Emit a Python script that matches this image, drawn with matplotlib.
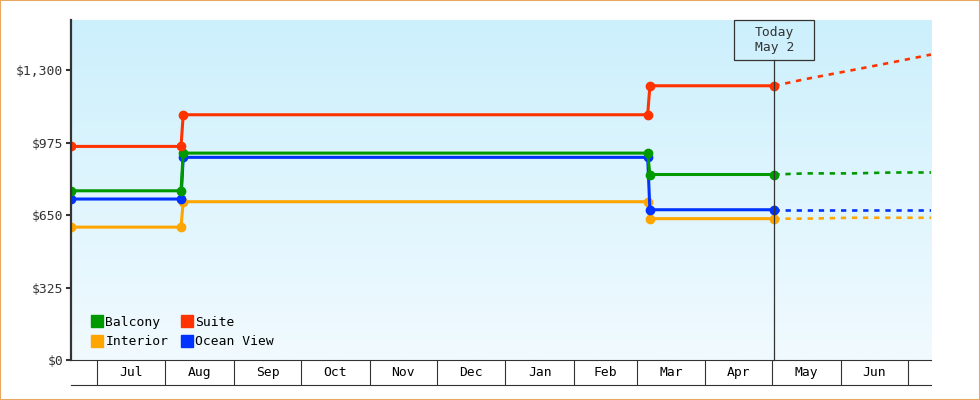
import datetime as dt
import numpy as np
import matplotlib
matplotlib.use("Agg")
import matplotlib.pyplot as plt
import matplotlib.dates as mdates
import matplotlib.transforms as mtransforms
from matplotlib.lines import Line2D
from matplotlib.patches import Rectangle

# fare history: a point at each change (old level, then new level)
history_dates = [dt.datetime(2022, 6, 19, 12), dt.datetime(2022, 8, 8), dt.datetime(2022, 8, 9),
                 dt.datetime(2023, 3, 6), dt.datetime(2023, 3, 7), dt.datetime(2023, 5, 2)]
balcony = [759, 759, 928, 928, 832, 832]
suite = [958, 958, 1100, 1100, 1230, 1230]
interior = [596, 596, 710, 710, 634, 634]
ocean_view = [722, 722, 909, 909, 674, 674]

# forecast after today
forecast_dates = [dt.datetime(2023, 5, 2), dt.datetime(2023, 5, 16), dt.datetime(2023, 6, 6),
                  dt.datetime(2023, 6, 24), dt.datetime(2023, 7, 11, 12)]
balcony_fc = [832, 837, 837, 841, 841]
suite_fc = [1230, 1260, 1300, 1335, 1370]
interior_fc = [634, 634, 638, 638, 638]
ocean_view_fc = [674, 674, 674, 674, 674]

today = dt.datetime(2023, 5, 2)
today_label = "Today\nMay 2"

y_ticks = [0, 325, 650, 975, 1300]
month_starts = [dt.datetime(2022, m, 1) for m in range(7, 13)] + [dt.datetime(2023, m, 1) for m in range(1, 8)]

series = [
    ("Interior", interior, interior_fc, "#ffa500"),
    ("Ocean View", ocean_view, ocean_view_fc, "#0033ff"),
    ("Balcony", balcony, balcony_fc, "#009900"),
    ("Suite", suite, suite_fc, "#ff3300"),
]
legend_order = ["Balcony", "Interior", "Suite", "Ocean View"]
dark = "#333333"

plt.rcParams["font.family"] = ["DejaVu Sans Mono"]
plt.rcParams["font.size"] = 9.4

fig = plt.figure(figsize=(9.8, 4.0), dpi=100)
rect = [71 / 980, 40 / 400, 860 / 980, 340 / 400]

# gradient background behind the plot
ax_bg = fig.add_axes(rect, zorder=0)
top = np.array([204, 240, 252]) / 255
bottom = np.array([241, 250, 255]) / 255
t = np.linspace(0, 1, 256)[:, None]
grad = (top * (1 - t) + bottom * t)[:, None, :]
ax_bg.imshow(grad, aspect="auto", extent=[0, 1, 0, 1])
ax_bg.axis("off")

ax = fig.add_axes(rect, zorder=1)
ax.patch.set_alpha(0)

for name, hist, fc, color in series:
    ax.plot(history_dates, hist, color=color, lw=2.2, marker="o", ms=6, solid_joinstyle="round")
    ax.plot(forecast_dates, fc, color=color, lw=1.9, ls=(0, (2, 2.2)))

ax.set_xlim(dt.datetime(2022, 6, 19, 12), dt.datetime(2023, 7, 11, 12))
ax.set_ylim(0, 1525)

ax.set_yticks(y_ticks)
ax.set_yticklabels([f"${v:,}" for v in y_ticks])
ax.tick_params(axis="y", length=3.6, width=1.5, color=dark, labelcolor=dark, pad=2)

# month boxes under the axis
ax.set_xticks(mdates.date2num(month_starts))
ax.tick_params(axis="x", which="major", length=18, width=0.8, color=dark, labelbottom=False)
nums = mdates.date2num(month_starts)
mids = (nums[:-1] + nums[1:]) / 2
ax.set_xticks(mids, minor=True)
ax.set_xticklabels([d.strftime("%b") for d in month_starts[:-1]], minor=True)
ax.tick_params(axis="x", which="minor", length=0, pad=4, labelcolor="black")
ax.plot([0, 1], [-25 / 340, -25 / 340], transform=ax.transAxes, clip_on=False, color=dark, lw=0.8)

for side in ["top", "right"]:
    ax.spines[side].set_visible(False)
ax.spines["left"].set_linewidth(1.6)
ax.spines["left"].set_color(dark)
ax.spines["bottom"].set_linewidth(0.8)
ax.spines["bottom"].set_color(dark)

# today marker line and label box
blend = mtransforms.blended_transform_factory(ax.transData, ax.transAxes)
tn = mdates.date2num(today)
box_h = 40 / 340
ax.plot([tn, tn], [0, 1 - box_h], transform=blend, color=dark, lw=0.9, clip_on=False)
ax.add_patch(Rectangle((tn - 18, 1 - box_h), 36, box_h, transform=blend, fill=False,
                       edgecolor=dark, lw=0.9, clip_on=False))
ax.text(tn, 1 - box_h / 2, today_label, transform=blend, ha="center", va="center",
        color=dark, linespacing=1.25)

handles = {}
for name, hist, fc, color in series:
    handles[name] = Line2D([], [], marker="s", ls="none", color=color, ms=8)
ax.legend([handles[n] for n in legend_order], legend_order, ncol=2, loc="lower left",
          bbox_to_anchor=(0.024, 0.035), frameon=False, handlelength=0.8, handletextpad=0.25,
          columnspacing=1.0, labelspacing=0.5, borderpad=0, borderaxespad=0)

fig.add_artist(Rectangle((0, 0), 1, 1, transform=fig.transFigure, fill=False,
                         edgecolor="#e8a860", lw=1.5))

fig.savefig("out.png", dpi=100)
